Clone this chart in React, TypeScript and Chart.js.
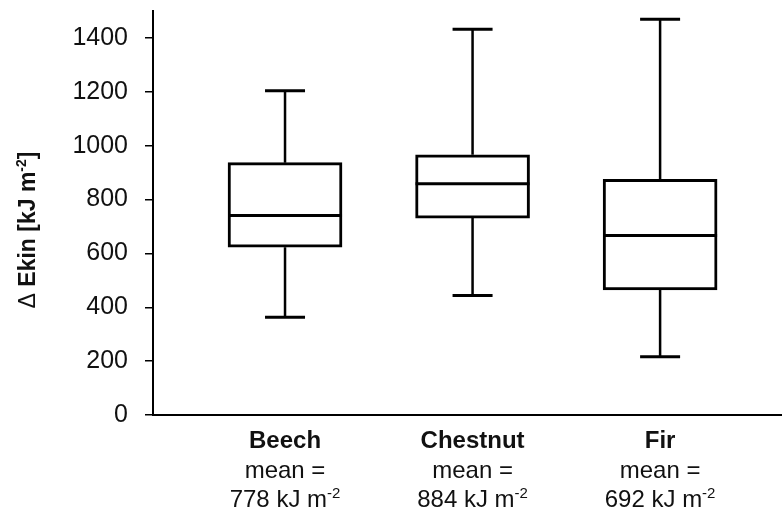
import React, { useEffect, useRef } from "react";
import { Chart, registerables } from "chart.js";

Chart.register(...registerables);

// Species and their box-plot statistics (kJ m-2)
const species = ["Beech", "Chestnut", "Fir"];
const means = [778, 884, 692];
const whiskerMin = [363, 444, 216];
const q1 = [623, 731, 464];
const median = [741, 859, 666];
const q3 = [937, 966, 875];
const whiskerMax = [1204, 1432, 1469];
const positions = [1, 2, 3];

const yTicks = [0, 200, 400, 600, 800, 1000, 1200, 1400];

const FONT = "'Liberation Sans', Arial, Helvetica, sans-serif";
const INK = "#111";

type Seg = { t: string; font: string; raise?: number };

function drawSegments(ctx: CanvasRenderingContext2D, segs: Seg[], cx: number, baseline: number) {
  let total = 0;
  const widths = segs.map((s) => {
    ctx.font = s.font;
    const w = ctx.measureText(s.t).width;
    total += w;
    return w;
  });
  let x = cx - total / 2;
  ctx.textAlign = "left";
  ctx.textBaseline = "alphabetic";
  segs.forEach((s, i) => {
    ctx.font = s.font;
    ctx.fillText(s.t, x, baseline - (s.raise || 0));
    x += widths[i];
  });
}

const boxExtras = {
  id: "boxExtras",
  afterDatasetsDraw(chart: any) {
    const { ctx, scales } = chart;
    const xs = scales.x;
    const ys = scales.y;
    const meta = chart.getDatasetMeta(0);
    ctx.save();
    ctx.strokeStyle = "#000";
    ctx.lineCap = "butt";
    positions.forEach((p, i) => {
      const cx = xs.getPixelForValue(p);
      const bar = meta.data[i];
      const half = bar.width / 2;
      const capHalf = 20;
      // whiskers
      ctx.lineWidth = 2.5;
      ctx.beginPath();
      ctx.moveTo(cx, ys.getPixelForValue(q3[i]));
      ctx.lineTo(cx, ys.getPixelForValue(whiskerMax[i]));
      ctx.moveTo(cx, ys.getPixelForValue(q1[i]));
      ctx.lineTo(cx, ys.getPixelForValue(whiskerMin[i]));
      ctx.stroke();
      // caps
      ctx.lineWidth = 3;
      ctx.beginPath();
      const yMax = ys.getPixelForValue(whiskerMax[i]);
      const yMin = ys.getPixelForValue(whiskerMin[i]);
      ctx.moveTo(cx - capHalf, yMax);
      ctx.lineTo(cx + capHalf, yMax);
      ctx.moveTo(cx - capHalf, yMin);
      ctx.lineTo(cx + capHalf, yMin);
      ctx.stroke();
      // median
      ctx.lineWidth = 3;
      ctx.beginPath();
      const ym = ys.getPixelForValue(median[i]);
      ctx.moveTo(cx - half, ym);
      ctx.lineTo(cx + half, ym);
      ctx.stroke();
    });
    ctx.restore();
  },
  afterDraw(chart: any) {
    const { ctx, scales } = chart;
    const xs = scales.x;
    ctx.save();
    ctx.fillStyle = INK;
    // category labels with means
    species.forEach((name, i) => {
      const cx = xs.getPixelForValue(positions[i]);
      drawSegments(ctx, [{ t: name, font: `bold 24px ${FONT}` }], cx, 448);
      drawSegments(ctx, [{ t: "mean =", font: `24px ${FONT}` }], cx, 478);
      drawSegments(
        ctx,
        [
          { t: `${means[i]} kJ m`, font: `24px ${FONT}` },
          { t: "-2", font: `15px ${FONT}`, raise: 9 },
        ],
        cx,
        507
      );
    });
    // rotated y-axis title
    ctx.translate(35, 230);
    ctx.rotate(-Math.PI / 2);
    drawSegments(
      ctx,
      [
        { t: "Δ ", font: `23px ${FONT}` },
        { t: "Ekin [kJ m", font: `bold 23px ${FONT}` },
        { t: "-2", font: `bold 14px ${FONT}`, raise: 9 },
        { t: "]", font: `bold 23px ${FONT}` },
      ],
      0,
      0
    );
    ctx.restore();
  },
};

export default function App() {
  const canvasRef = useRef<HTMLCanvasElement | null>(null);

  useEffect(() => {
    document.body.style.margin = "0";
    const canvas = canvasRef.current;
    if (!canvas) return;
    const chart = new Chart(canvas, {
      type: "bar",
      data: {
        datasets: [
          {
            data: positions.map((p, i) => ({ x: p, y: [q1[i], q3[i]] })) as any,
            backgroundColor: "#fff",
            borderColor: "#000",
            borderWidth: 3,
            borderSkipped: false,
            barThickness: 114,
          },
        ],
      },
      options: {
        animation: false,
        responsive: false,
        maintainAspectRatio: false,
        layout: { padding: { top: 11, left: 0, right: 0, bottom: 0 } },
        plugins: { legend: { display: false }, tooltip: { enabled: false } },
        scales: {
          x: {
            type: "linear",
            min: 0.296,
            max: 3.65,
            offset: false,
            grid: { display: false, offset: false },
            ticks: { display: false },
            border: { display: true, color: "#000", width: 2 },
            afterFit: (s: any) => {
              s.height = 101;
              s.paddingLeft = 0;
              s.paddingRight = 0;
            },
          },
          y: {
            type: "linear",
            min: 0,
            max: 1500,
            grid: {
              display: true,
              drawOnChartArea: false,
              drawTicks: true,
              tickLength: 8,
              color: "#000",
              lineWidth: 1.5,
            },
            border: { display: true, color: "#000", width: 2 },
            ticks: {
              stepSize: 200,
              padding: 17,
              color: INK,
              font: { family: FONT, size: 25 },
              callback: (v: any) => String(v),
            },
            afterBuildTicks: (s: any) => {
              s.ticks = yTicks.map((v) => ({ value: v }));
            },
            afterFit: (s: any) => {
              s.width = 153;
              s.paddingTop = 0;
              s.paddingBottom = 0;
            },
          },
        },
      },
      plugins: [boxExtras],
    });
    return () => chart.destroy();
  }, []);

  return (
    <div style={{ width: 782, height: 516, background: "#fff" }}>
      <canvas ref={canvasRef} width={782} height={516} />
    </div>
  );
}
